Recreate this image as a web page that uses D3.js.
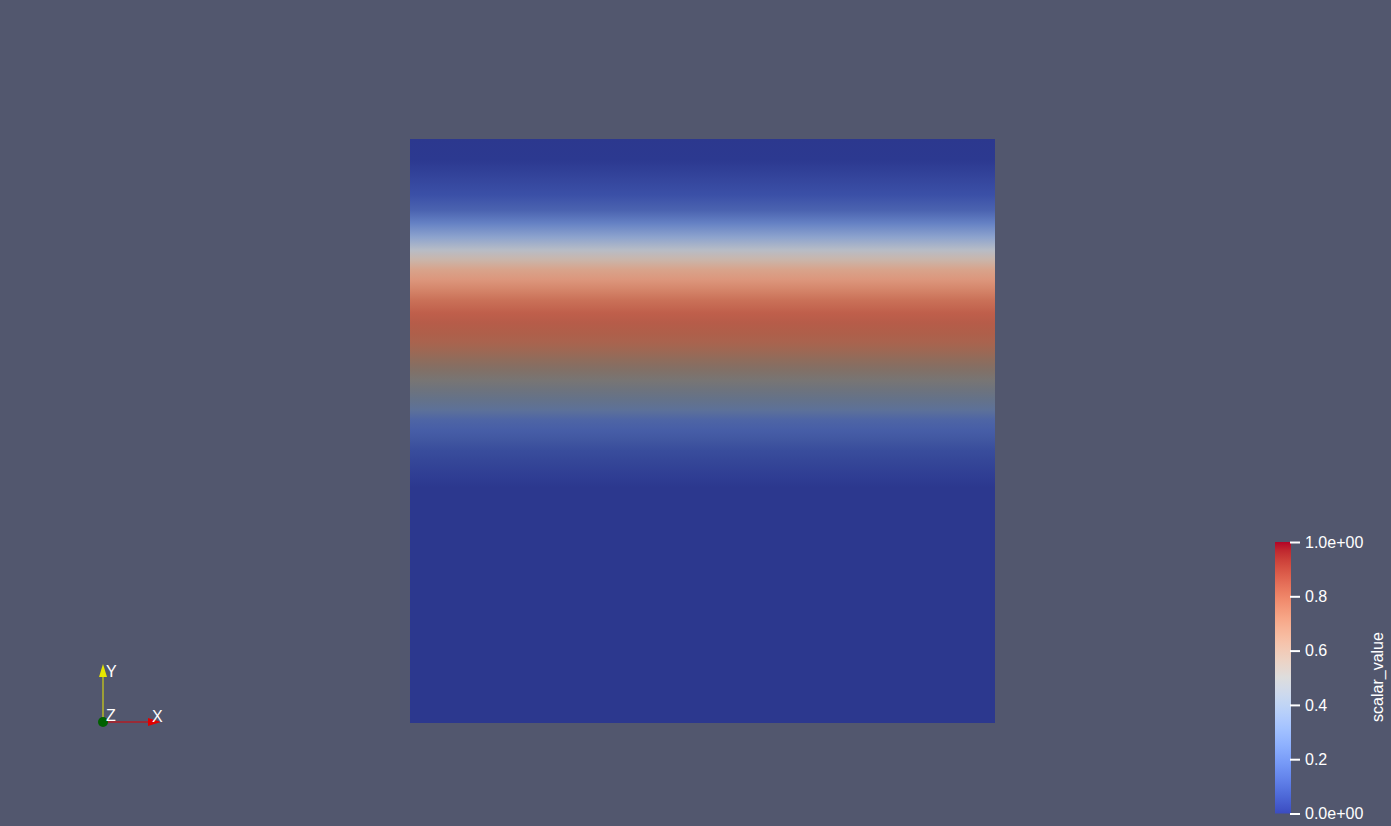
<!DOCTYPE html>
<html>
<head>
<meta charset="utf-8">
<script src="https://cdn.jsdelivr.net/npm/d3@7"></script>
<style>
  html, body { margin: 0; padding: 0; background: #52576e; overflow: hidden; }
  svg { display: block; }
  text { font-family: "Liberation Sans", Arial, sans-serif; fill: #ffffff; }
</style>
</head>
<body>
<svg id="chart" width="1391" height="826"></svg>
<script>
// ---- data: scalar profile along the mesh Y direction (uniform in X) ----
// mesh y coordinate (0 = bottom edge, 1 = top edge)
const rowY = [1.000, 0.964, 0.938, 0.904, 0.878, 0.856, 0.832, 0.810, 0.793, 0.776,
              0.759, 0.741, 0.724, 0.702, 0.685, 0.668, 0.652, 0.639, 0.622, 0.604,
              0.587, 0.570, 0.553, 0.536, 0.519, 0.502, 0.485, 0.467, 0.445, 0.421,
              0.404, 0.000];
// scalar_value at each row
const rowValue = [0.00, 0.00, 0.03, 0.06, 0.13, 0.22, 0.345, 0.47, 0.56, 0.66,
                  0.71, 0.755, 0.80, 0.84, 0.835, 0.81, 0.78, 0.74, 0.66, 0.58,
                  0.51, 0.44, 0.37, 0.29, 0.18, 0.13, 0.11, 0.07, 0.04, 0.015,
                  0.00, 0.00];
// lighting intensity on the (warped) surface at each row
const rowLight = [0.74, 0.75, 0.755, 0.78, 0.75, 0.78, 0.81, 0.86, 0.86, 0.875,
                  0.89, 0.87, 0.85, 0.83, 0.79, 0.74, 0.70, 0.65, 0.58, 0.54,
                  0.535, 0.53, 0.55, 0.60, 0.67, 0.71, 0.70, 0.72, 0.73, 0.74,
                  0.74, 0.74];

// colour bar
const colorTicks = [0, 0.2, 0.4, 0.6, 0.8, 1.0];
const colorTickLabels = ["0.0e+00", "0.2", "0.4", "0.6", "0.8", "1.0e+00"];
const colorTitle = "scalar_value";

// "Cool to Warm" colour map control points
const cmapPos = [0.0, 0.03125, 0.0625, 0.09375, 0.125, 0.15625, 0.1875, 0.21875, 0.25,
                 0.28125, 0.3125, 0.34375, 0.375, 0.40625, 0.4375, 0.46875, 0.5,
                 0.53125, 0.5625, 0.59375, 0.625, 0.65625, 0.6875, 0.71875, 0.75,
                 0.78125, 0.8125, 0.84375, 0.875, 0.90625, 0.9375, 0.96875, 1.0];
const cmapRGB = ["#3b4cc0", "#445acc", "#4d68d7", "#5775e1", "#6282ea", "#6c8ef1",
                 "#779af7", "#82a5fb", "#8db0fe", "#98b9ff", "#a3c2ff", "#aec9fd",
                 "#b8d0f9", "#c2d5f4", "#ccd9ee", "#d5dbe6", "#dddddd", "#e5d8d1",
                 "#ecd3c5", "#f1ccb9", "#f5c4ad", "#f7bba0", "#f7b194", "#f7a687",
                 "#f49a7b", "#f18d6f", "#ec7f63", "#e57059", "#de604d", "#d55042",
                 "#cb3e38", "#c0282f", "#b40426"];

// axes triad
const triadLabels = ["X", "Y", "Z"];

// ---- drawing ----
const svg = d3.select("#chart");

const cmap = d3.scaleLinear().domain(cmapPos).range(cmapRGB)
  .interpolate(d3.interpolateRgb).clamp(true);

const xScale = d3.scaleLinear().domain([0, 1]).range([410, 995]);
const yScale = d3.scaleLinear().domain([0, 1]).range([723, 139]);

const defs = svg.append("defs");

// surface gradient (shaded colours)
const surfGrad = defs.append("linearGradient")
  .attr("id", "surfGrad")
  .attr("gradientUnits", "userSpaceOnUse")
  .attr("x1", 0).attr("x2", 0)
  .attr("y1", yScale(1)).attr("y2", yScale(0));

const span = yScale(0) - yScale(1);
surfGrad.selectAll("stop")
  .data(rowY.map((y, i) => ({ y, v: rowValue[i], s: rowLight[i] })))
  .join("stop")
  .attr("offset", d => (yScale(d.y) - yScale(1)) / span)
  .attr("stop-color", d => {
    const c = d3.rgb(cmap(d.v));
    return d3.rgb(c.r * d.s, c.g * d.s, c.b * d.s).formatHex();
  });

svg.append("rect")
  .attr("x", xScale(0))
  .attr("y", yScale(1))
  .attr("width", xScale(1) - xScale(0))
  .attr("height", yScale(0) - yScale(1))
  .attr("fill", "url(#surfGrad)");

// colour bar
const cbScale = d3.scaleLinear().domain([0, 1]).range([813.5, 542]);
const cbGrad = defs.append("linearGradient")
  .attr("id", "cbGrad")
  .attr("gradientUnits", "userSpaceOnUse")
  .attr("x1", 0).attr("x2", 0)
  .attr("y1", cbScale(0)).attr("y2", cbScale(1));
cbGrad.selectAll("stop")
  .data(cmapPos)
  .join("stop")
  .attr("offset", d => d)
  .attr("stop-color", (d, i) => cmapRGB[i]);

svg.append("rect")
  .attr("x", 1275)
  .attr("y", cbScale(1))
  .attr("width", 16)
  .attr("height", cbScale(0) - cbScale(1))
  .attr("fill", "url(#cbGrad)");

const cbAxis = d3.axisRight(cbScale)
  .tickValues(colorTicks)
  .tickFormat((d, i) => colorTickLabels[i])
  .tickSize(10)
  .tickPadding(5);

const cbG = svg.append("g")
  .attr("transform", "translate(1290,0)")
  .call(cbAxis);
cbG.select(".domain").remove();
cbG.selectAll(".tick line").attr("stroke", "#ffffff").attr("stroke-width", 2);
cbG.selectAll(".tick text")
  .attr("fill", "#ffffff")
  .style("font-family", '"Liberation Sans", Arial, sans-serif')
  .style("font-size", "16px");

svg.append("text")
  .attr("transform", "translate(1383,677) rotate(-90)")
  .attr("text-anchor", "middle")
  .style("font-size", "16px")
  .text(colorTitle);

// axes triad
const ox = 103, oy = 722;
svg.append("line")
  .attr("x1", ox).attr("y1", oy).attr("x2", ox).attr("y2", 672)
  .attr("stroke", "#e8e800").attr("stroke-width", 1);
svg.append("path")
  .attr("d", `M${ox},664 L${ox - 4},677 L${ox + 4},677 Z`)
  .attr("fill", "#e6e600");
svg.append("line")
  .attr("x1", ox).attr("y1", oy).attr("x2", 152).attr("y2", oy)
  .attr("stroke", "#e00000").attr("stroke-width", 1);
svg.append("path")
  .attr("d", `M161,${oy} L148,${oy - 4} L148,${oy + 4} Z`)
  .attr("fill", "#e00000");
svg.append("circle")
  .attr("cx", ox).attr("cy", oy).attr("r", 5)
  .attr("fill", "#006000");

svg.append("text").attr("x", 152).attr("y", 722).style("font-size", "16px").text(triadLabels[0]);
svg.append("text").attr("x", 106).attr("y", 677).style("font-size", "16px").text(triadLabels[1]);
svg.append("text").attr("x", 106).attr("y", 721).style("font-size", "16px").text(triadLabels[2]);
</script>
</body>
</html>
